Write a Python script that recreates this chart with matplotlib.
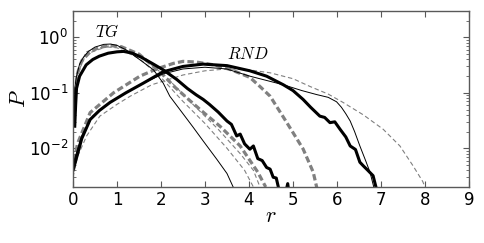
import numpy as np
import matplotlib
matplotlib.use('Agg')
import matplotlib.pyplot as plt

plt.rcParams['mathtext.fontset'] = 'cm'
plt.rcParams['font.family'] = 'DejaVu Sans'

# TG curves (r, P)
tg_thick_r = [0.04, 0.06, 0.08, 0.15, 0.3, 0.45, 0.6, 0.8, 1.0, 1.15, 1.35, 1.55, 1.8, 2.05, 2.36, 2.6, 2.8, 2.96,
              3.1, 3.3, 3.5, 3.6, 3.72, 3.8, 3.9, 4.02, 4.1, 4.2, 4.3, 4.4, 4.48, 4.55, 4.62, 4.68, 4.8, 4.88, 4.93]
tg_thick_p = [0.025, 0.06, 0.12, 0.2, 0.32, 0.4, 0.46, 0.52, 0.55, 0.56, 0.52, 0.44, 0.34, 0.26, 0.174, 0.12, 0.092, 0.076,
              0.062, 0.045, 0.031, 0.027, 0.0167, 0.018, 0.012, 0.0096, 0.011, 0.0065, 0.006, 0.0045, 0.0042, 0.003, 0.0029, 0.0018,
              0.0012, 0.0023, 0.0012]

tg_thin_r = [0.02, 0.04, 0.08, 0.15, 0.23, 0.35, 0.5, 0.7, 0.85, 1.0, 1.2, 1.34, 1.55, 1.83, 2.05, 2.2, 2.5, 2.73, 2.96,
             3.27, 3.5, 3.64]
tg_thin_p = [0.03, 0.12, 0.2, 0.33, 0.43, 0.56, 0.67, 0.75, 0.76, 0.72, 0.6, 0.5, 0.38, 0.26, 0.15, 0.087, 0.042, 0.024, 0.0135,
             0.0063, 0.0035, 0.002]

tg_gray_thick_r = [0.02, 0.05, 0.1, 0.2, 0.4, 0.6, 0.85, 1.1, 1.5, 2.0, 2.3, 2.66, 3.0, 3.34, 3.8, 4.2, 4.38]
tg_gray_thick_p = [0.03, 0.1, 0.22, 0.38, 0.56, 0.66, 0.72, 0.68, 0.5, 0.23, 0.13, 0.072, 0.042, 0.025, 0.011, 0.0037, 0.002]

tg_gray_a_r = [0.02, 0.1, 0.3, 0.7, 1.0, 1.5, 2.0, 2.5, 3.0, 3.5, 3.9, 4.1]
tg_gray_a_p = [0.03, 0.25, 0.55, 0.68, 0.65, 0.42, 0.19, 0.07, 0.028, 0.01, 0.004, 0.002]

tg_gray_b_r = [0.02, 0.1, 0.3, 0.8, 1.1, 1.6, 2.1, 2.7, 3.3, 3.8, 4.1, 4.25]
tg_gray_b_p = [0.025, 0.22, 0.5, 0.7, 0.65, 0.42, 0.2, 0.065, 0.022, 0.008, 0.004, 0.002]

# RND curves (r, P)
rnd_thick_r = [0.0, 0.05, 0.2, 0.39, 0.6, 0.84, 1.2, 1.6, 2.05, 2.5, 2.96, 3.5, 4.02, 4.4, 4.78, 5.0, 5.23, 5.4, 5.61,
               5.72, 5.84, 5.95, 6.07, 6.2, 6.3, 6.42, 6.52, 6.6, 6.7, 6.82, 6.9]
rnd_thick_p = [0.004, 0.0055, 0.015, 0.033, 0.048, 0.067, 0.1, 0.15, 0.24, 0.3, 0.33, 0.31, 0.25, 0.2, 0.14, 0.11, 0.076, 0.055,
               0.038, 0.036, 0.029, 0.03, 0.022, 0.016, 0.011, 0.0095, 0.0056, 0.0048, 0.004, 0.0032, 0.0018]

rnd_thin_r = [0.0, 0.05, 0.2, 0.45, 0.8, 1.2, 1.6, 2.05, 2.5, 3.0, 3.49, 4.02, 4.78, 5.2, 5.54, 5.8, 5.99, 6.1, 6.2, 6.3,
              6.4, 6.52, 6.65, 6.75, 6.85]
rnd_thin_p = [0.005, 0.007, 0.017, 0.038, 0.065, 0.1, 0.15, 0.22, 0.27, 0.29, 0.27, 0.2, 0.14, 0.11, 0.093, 0.083, 0.069,
              0.055, 0.042, 0.031, 0.02, 0.011, 0.006, 0.0037, 0.0018]

rnd_gray_thick_r = [0.0, 0.1, 0.39, 0.92, 1.52, 1.9, 2.28, 2.5, 2.8, 3.2, 3.6, 4.02, 4.25, 4.48, 4.86, 5.23, 5.46, 5.55]
rnd_gray_thick_p = [0.004, 0.012, 0.044, 0.1, 0.2, 0.27, 0.34, 0.37, 0.36, 0.32, 0.26, 0.19, 0.13, 0.087, 0.029, 0.0097,
                    0.0037, 0.0018]

rnd_gray_thin_r = [0.0, 0.1, 0.31, 0.61, 1.0, 1.3, 1.79, 2.5, 3.0, 3.5, 4.0, 4.48, 5.0, 5.39, 5.8, 6.14, 6.6, 7.05, 7.43,
                   7.73, 7.95, 8.02]
rnd_gray_thin_p = [0.003, 0.007, 0.0167, 0.038, 0.062, 0.087, 0.14, 0.21, 0.25, 0.27, 0.26, 0.23, 0.18, 0.13, 0.095, 0.067,
                   0.04, 0.022, 0.011, 0.0048, 0.0025, 0.0018]

fig = plt.figure(figsize=(4.85, 2.43), dpi=100)
ax = fig.add_axes([0.1505, 0.2305, 0.8165, 0.7242])

gray = '0.5'
ax.plot(tg_gray_a_r, tg_gray_a_p, color=gray, lw=0.8, dashes=(4, 2.5))
ax.plot(tg_gray_b_r, tg_gray_b_p, color=gray, lw=0.8, dashes=(4, 2.5))
ax.plot(rnd_gray_thin_r, rnd_gray_thin_p, color=gray, lw=0.8, dashes=(4, 2.5))
ax.plot(tg_gray_thick_r, tg_gray_thick_p, color=gray, lw=2.3, dashes=(2, 1))
ax.plot(rnd_gray_thick_r, rnd_gray_thick_p, color=gray, lw=2.3, dashes=(2, 1))
ax.plot(tg_thin_r, tg_thin_p, color='black', lw=0.7)
ax.plot(rnd_thin_r, rnd_thin_p, color='black', lw=0.7)
ax.plot(tg_thick_r, tg_thick_p, color='black', lw=2.2)
ax.plot(rnd_thick_r, rnd_thick_p, color='black', lw=2.2)

ax.set_yscale('log')
ax.set_xlim(0, 9)
ax.set_ylim(0.002, 3)
ax.set_xticks(range(10))

ax.text(0.77, 1.25, r'$TG$', fontsize=12, ha='center', va='center')
ax.text(3.98, 0.5, r'$RND$', fontsize=12, ha='center', va='center')

ax.set_xlabel(r'$r$', fontsize=16, labelpad=-2)
ax.set_ylabel(r'$P$', fontsize=16, labelpad=0)

ax.tick_params(which='both', direction='in', top=True, right=True, labelsize=12, color='0.35')
ax.tick_params(which='major', length=4)
ax.tick_params(which='minor', length=2)
ax.tick_params(axis='x', pad=3)
for s in ax.spines.values():
    s.set_color('0.35')
    s.set_linewidth(1.0)

plt.savefig('out.png', dpi=100)
